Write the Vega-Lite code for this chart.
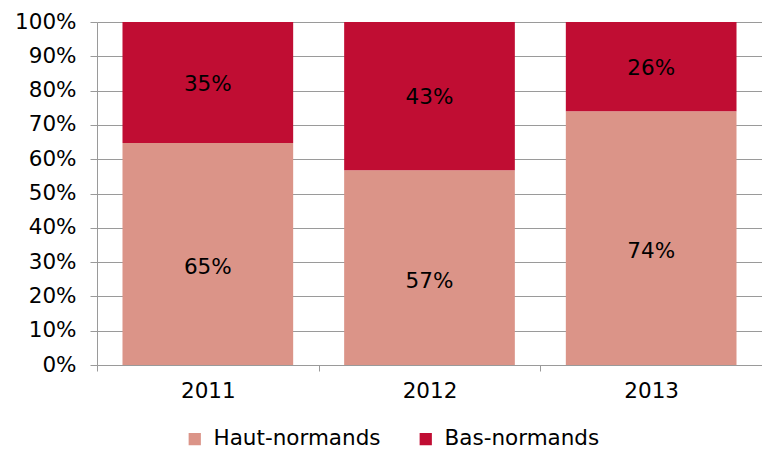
{
  "$schema": "https://vega.github.io/schema/vega-lite/v6.json",
  "autosize": "none",
  "padding": {"left": 97, "top": 22, "right": 0, "bottom": 85},
  "width": 665,
  "height": 343,
  "background": "white",
  "config": {
    "view": {"stroke": null},
    "font": "DejaVu Sans"
  },
  "data": {
    "values": [
      {"annee": "2011", "serie": "Haut-normands", "part": 0.647},
      {"annee": "2011", "serie": "Bas-normands", "part": 0.353},
      {"annee": "2012", "serie": "Haut-normands", "part": 0.568},
      {"annee": "2012", "serie": "Bas-normands", "part": 0.432},
      {"annee": "2013", "serie": "Haut-normands", "part": 0.74},
      {"annee": "2013", "serie": "Bas-normands", "part": 0.26}
    ]
  },
  "transform": [
    {"stack": "part", "groupby": ["annee"], "sort": [{"field": "serie", "order": "descending"}], "as": ["y0", "y1"]},
    {"calculate": "(datum.y0 + datum.y1) / 2", "as": "ymid"}
  ],
  "encoding": {
    "x": {
      "field": "annee", "type": "nominal", "title": null,
      "scale": {"paddingInner": 0, "paddingOuter": 0},
      "axis": {
        "labelAngle": 0, "labelFontSize": 21.5, "labelColor": "#000000", "labelPadding": 9,
        "tickBand": "extent", "tickSize": 6, "tickColor": "#9a9a9a", "domainColor": "#9a9a9a"
      }
    }
  },
  "layer": [
    {
      "mark": {"type": "bar", "width": {"band": 0.77}},
      "encoding": {
        "y": {
          "field": "y0", "type": "quantitative", "title": null,
          "scale": {"domain": [0, 1]},
          "axis": {
            "format": ".0%", "values": [0, 0.1, 0.2, 0.3, 0.4, 0.5, 0.6, 0.7, 0.8, 0.9, 1],
            "labelOverlap": false, "labelBound": false, "labelFlush": false,
            "labelFontSize": 21.5, "labelColor": "#000000", "labelPadding": 14,
            "tickSize": 7, "tickColor": "#9a9a9a", "domainColor": "#9a9a9a",
            "grid": true, "gridColor": "#9a9a9a", "gridWidth": 1
          }
        },
        "y2": {"field": "y1"},
        "color": {
          "field": "serie", "type": "nominal",
          "scale": {"domain": ["Haut-normands", "Bas-normands"], "range": ["#DB9488", "#C00D33"]},
          "legend": {
            "title": null, "orient": "none", "direction": "horizontal",
            "legendX": 87, "legendY": 406, "labelLimit": 400,
            "symbolType": "square", "symbolSize": 150, "symbolStrokeWidth": 0,
            "labelFontSize": 21.5, "labelColor": "#000000", "columnPadding": 34, "labelOffset": 8
          }
        }
      }
    },
    {
      "transform": [{"filter": "datum.serie == 'Haut-normands'"}],
      "mark": {"type": "text", "fontSize": 21.5, "color": "#000000", "dy": 14},
      "encoding": {
        "y": {
          "field": "ymid", "type": "quantitative",
          "axis": {
            "format": ".0%", "values": [0, 0.1, 0.2, 0.3, 0.4, 0.5, 0.6, 0.7, 0.8, 0.9, 1],
            "labelOverlap": false, "labelBound": false, "labelFlush": false,
            "labelFontSize": 21.5, "labelColor": "#000000", "labelPadding": 14,
            "tickSize": 7, "tickColor": "#9a9a9a", "domainColor": "#9a9a9a",
            "grid": true, "gridColor": "#9a9a9a", "gridWidth": 1
          }
        },
        "text": {"field": "part", "type": "quantitative", "format": ".0%"}
      }
    },
    {
      "transform": [{"filter": "datum.serie == 'Bas-normands'"}],
      "mark": {"type": "text", "fontSize": 21.5, "color": "#000000", "dy": 2},
      "encoding": {
        "y": {
          "field": "ymid", "type": "quantitative",
          "axis": {
            "format": ".0%", "values": [0, 0.1, 0.2, 0.3, 0.4, 0.5, 0.6, 0.7, 0.8, 0.9, 1],
            "labelOverlap": false, "labelBound": false, "labelFlush": false,
            "labelFontSize": 21.5, "labelColor": "#000000", "labelPadding": 14,
            "tickSize": 7, "tickColor": "#9a9a9a", "domainColor": "#9a9a9a",
            "grid": true, "gridColor": "#9a9a9a", "gridWidth": 1
          }
        },
        "text": {"field": "part", "type": "quantitative", "format": ".0%"}
      }
    }
  ]
}
